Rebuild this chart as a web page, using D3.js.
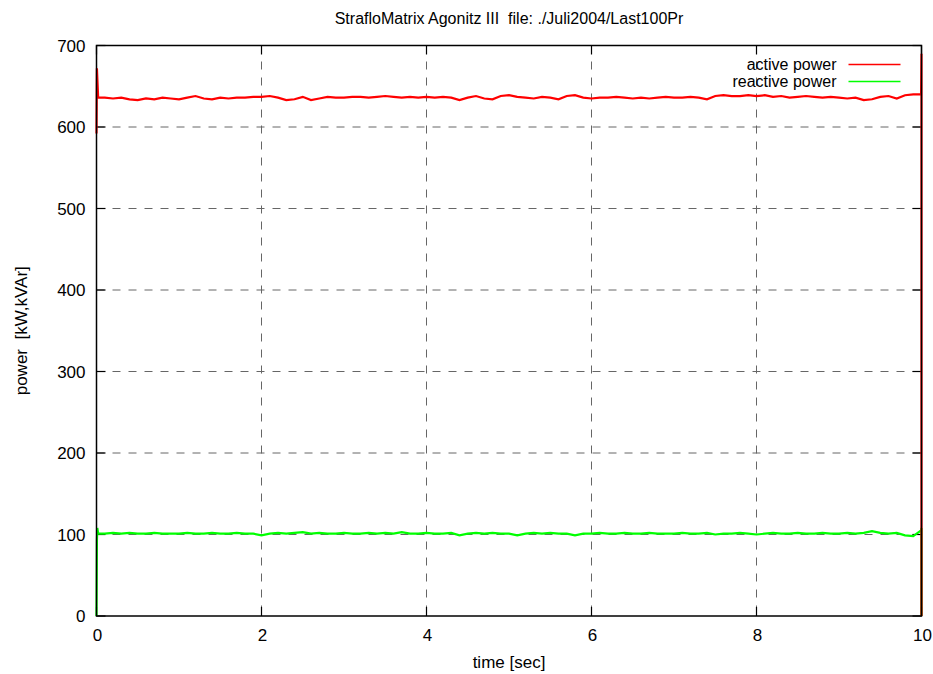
<!DOCTYPE html>
<meta charset="utf-8">
<style>
  body { margin: 0; background: #fff; }
  text { font-family: "Liberation Sans", Arial, sans-serif; fill: #000; white-space: pre; }
  .grid line { stroke: #666; stroke-dasharray: 8, 8; stroke-width: 1; }
  .tick-mark { stroke: #000; stroke-width: 1.2; }
</style>
<svg width="933" height="674"></svg>
<script src="https://d3js.org/d3.v7.min.js"></script>
<script>
  var svg = d3.select("svg"),
    width = +svg.attr("width"),
    height = +svg.attr("height");

  var margin = {top: 45.5, right: 11.5, bottom: 58, left: 96.5};
  var w = width - margin.left - margin.right,
    h = height - margin.top - margin.bottom;

  var title = "StrafloMatrix Agonitz III  file: ./Juli2004/Last100Pr";
  var xTicks = [0, 2, 4, 6, 8, 10];
  var yTicks = [0, 100, 200, 300, 400, 500, 600, 700];
  var seriesNames = ["active power", "reactive power"];
  var seriesColors = ["#ff0000", "#00ff00"];

  var timeSec = [0.0, 0.1, 0.2, 0.3, 0.4, 0.5, 0.6, 0.7, 0.8, 0.9,
    1.0, 1.1, 1.2, 1.3, 1.4, 1.5, 1.6, 1.7, 1.8, 1.9,
    2.0, 2.1, 2.2, 2.3, 2.4, 2.5, 2.6, 2.7, 2.8, 2.9,
    3.0, 3.1, 3.2, 3.3, 3.4, 3.5, 3.6, 3.7, 3.8, 3.9,
    4.0, 4.1, 4.2, 4.3, 4.4, 4.5, 4.6, 4.7, 4.8, 4.9,
    5.0, 5.1, 5.2, 5.3, 5.4, 5.5, 5.6, 5.7, 5.8, 5.9,
    6.0, 6.1, 6.2, 6.3, 6.4, 6.5, 6.6, 6.7, 6.8, 6.9,
    7.0, 7.1, 7.2, 7.3, 7.4, 7.5, 7.6, 7.7, 7.8, 7.9,
    8.0, 8.1, 8.2, 8.3, 8.4, 8.5, 8.6, 8.7, 8.8, 8.9,
    9.0, 9.1, 9.2, 9.3, 9.4, 9.5, 9.6, 9.7, 9.8, 9.9, 10.0];

  var activePower = [636, 636, 635, 636, 634, 633, 635, 634, 636, 635,
    634, 636, 638, 635, 634, 636, 635, 636, 636, 637,
    637, 638, 636, 633, 634, 637, 633, 635, 637, 636,
    636, 637, 637, 636, 637, 638, 637, 636, 637, 636,
    637, 636, 637, 636, 633, 636, 638, 635, 634, 638,
    639, 637, 636, 635, 637, 636, 634, 638, 639, 636,
    635, 636, 636, 637, 636, 635, 636, 635, 636, 637,
    636, 636, 637, 636, 634, 638, 639, 638, 638, 639,
    638, 639, 637, 638, 636, 637, 638, 637, 636, 637,
    636, 635, 636, 633, 634, 637, 638, 635, 639, 640, 638];

  var reactivePower = [102, 101, 102, 101, 102, 101, 101, 102, 101, 101,
    101, 102, 101, 101, 102, 101, 101, 102, 101, 101,
    99, 101, 102, 101, 102, 103, 101, 102, 101, 101,
    102, 101, 101, 102, 101, 102, 101, 103, 101, 101,
    102, 101, 101, 102, 99, 101, 102, 101, 102, 101,
    101, 99, 101, 102, 101, 102, 101, 101, 99, 101,
    101, 102, 101, 101, 102, 101, 101, 102, 101, 101,
    101, 102, 101, 101, 102, 100, 101, 101, 102, 101,
    100, 101, 102, 101, 101, 102, 101, 101, 102, 101,
    101, 102, 101, 102, 104, 102, 101, 102, 99, 98, 105];

  // start-up and end transients at the plot edges
  var activeStart = [[0, 592], [0.005, 672], [0.02, 636]];
  var activeEnd = [[9.995, 640], [10, 690], [10, 0]];
  var reactiveStart = [[0, 0], [0.005, 92], [0.01, 108], [0.02, 101]];
  var reactiveEnd = [[9.995, 105], [10, 108], [10, 0]];

  var x = d3.scaleLinear().domain([0, 10]).range([0, w]);
  var y = d3.scaleLinear().domain([0, 700]).range([h, 0]);

  var g = svg.append("g").attr("transform", "translate(" + margin.left + "," + margin.top + ")");

  // grid
  var grid = g.append("g").attr("class", "grid");
  grid.selectAll(".gx").data(xTicks.slice(1, -1)).enter().append("line")
    .attr("x1", d => x(d)).attr("x2", d => x(d)).attr("y1", 0).attr("y2", h);
  grid.selectAll(".gy").data(yTicks.slice(1, -1)).enter().append("line")
    .attr("x1", 0).attr("x2", w).attr("y1", d => y(d)).attr("y2", d => y(d));

  // inward ticks on all four sides
  var tl = 9;
  var ticks = g.append("g");
  xTicks.forEach(function(d) {
    ticks.append("line").attr("class", "tick-mark")
      .attr("x1", x(d)).attr("x2", x(d)).attr("y1", h).attr("y2", h - tl);
    ticks.append("line").attr("class", "tick-mark")
      .attr("x1", x(d)).attr("x2", x(d)).attr("y1", 0).attr("y2", tl);
  });
  yTicks.forEach(function(d) {
    ticks.append("line").attr("class", "tick-mark")
      .attr("x1", 0).attr("x2", tl).attr("y1", y(d)).attr("y2", y(d));
    ticks.append("line").attr("class", "tick-mark")
      .attr("x1", w).attr("x2", w - tl).attr("y1", y(d)).attr("y2", y(d));
  });

  // tick labels
  g.selectAll(".xl").data(xTicks).enter().append("text")
    .attr("x", d => x(d) + 1).attr("y", h + 25)
    .attr("text-anchor", "middle").style("font-size", "17px")
    .text(d => d);
  g.selectAll(".yl").data(yTicks).enter().append("text")
    .attr("x", -11).attr("y", d => y(d) + 6)
    .attr("text-anchor", "end").style("font-size", "17px")
    .text(d => d);

  // series
  var line = d3.line().x(d => x(d[0])).y(d => y(d[1]));
  var activeData = activeStart.concat(timeSec.slice(1, -1).map((t, i) => [t, activePower[i + 1]]), activeEnd);
  var reactiveData = reactiveStart.concat(timeSec.slice(1, -1).map((t, i) => [t, reactivePower[i + 1]]), reactiveEnd);

  g.append("path").datum(reactiveData)
    .attr("fill", "none").attr("stroke", seriesColors[1]).attr("stroke-width", 2.2)
    .attr("d", line);
  g.append("path").datum(activeData)
    .attr("fill", "none").attr("stroke", seriesColors[0]).attr("stroke-width", 2.2)
    .attr("d", line);

  // frame
  g.append("rect").attr("width", w).attr("height", h)
    .attr("fill", "none").attr("stroke", "#000").attr("stroke-width", 1.5);

  // legend
  var legend = g.append("g");
  seriesNames.forEach(function(name, i) {
    var ly = 19 + i * 17;
    legend.append("text").attr("x", 740).attr("y", ly + 5)
      .attr("text-anchor", "end").style("font-size", "16px").text(name);
    legend.append("line").attr("x1", 752).attr("x2", 804).attr("y1", ly).attr("y2", ly)
      .attr("stroke", seriesColors[i]).attr("stroke-width", 1.5);
  });

  // titles
  svg.append("text").attr("x", margin.left + w / 2).attr("y", 24)
    .attr("text-anchor", "middle").style("font-size", "16px").text(title);
  svg.append("text").attr("x", margin.left + w / 2).attr("y", 668)
    .attr("text-anchor", "middle").style("font-size", "17px").text("time [sec]");
  svg.append("text").attr("transform", "translate(27," + (margin.top + h / 2) + ") rotate(-90)")
    .attr("text-anchor", "middle").style("font-size", "17px").text("power  [kW,kVAr]");
</script>
